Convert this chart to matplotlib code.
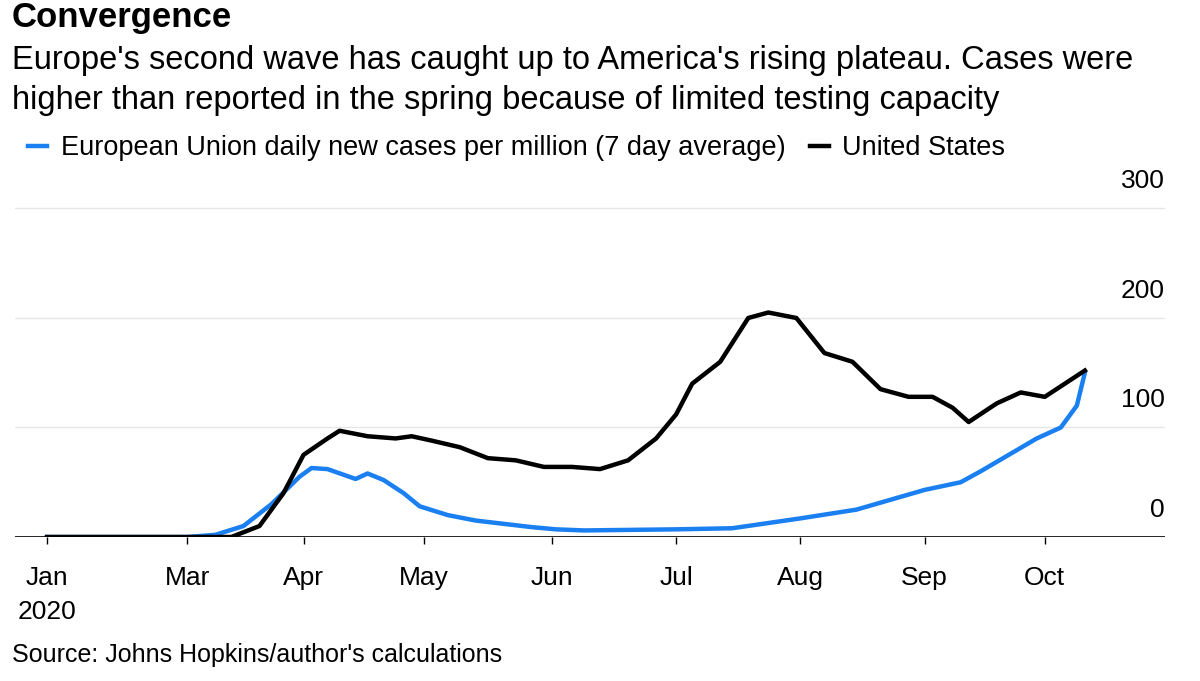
import matplotlib.pyplot as plt
import pandas as pd

plt.rcParams['font.family'] = ['Liberation Sans', 'DejaVu Sans']

eu_dates = ["2020-01-26", "2020-03-01", "2020-03-08", "2020-03-15", "2020-03-22", "2020-03-29",
            "2020-04-01", "2020-04-05", "2020-04-12", "2020-04-15", "2020-04-19", "2020-04-24",
            "2020-04-28", "2020-05-05", "2020-05-12", "2020-05-19", "2020-05-26", "2020-06-01",
            "2020-06-08", "2020-07-01", "2020-07-15", "2020-08-01", "2020-08-15", "2020-09-01",
            "2020-09-10", "2020-09-15", "2020-09-22", "2020-09-29", "2020-10-05", "2020-10-09",
            "2020-10-11"]
eu_vals = [0, 0, 2, 10, 30, 55, 63, 62, 53, 58, 52, 40, 28, 20, 15, 12, 9, 7, 6, 7, 8, 17, 25,
           43, 50, 60, 75, 90, 100, 120, 150]

us_dates = ["2020-01-26", "2020-03-12", "2020-03-19", "2020-03-25", "2020-03-30", "2020-04-05",
            "2020-04-08", "2020-04-15", "2020-04-22", "2020-04-26", "2020-05-01", "2020-05-08",
            "2020-05-15", "2020-05-22", "2020-05-29", "2020-06-05", "2020-06-12", "2020-06-19",
            "2020-06-26", "2020-07-01", "2020-07-05", "2020-07-12", "2020-07-19", "2020-07-24",
            "2020-07-31", "2020-08-07", "2020-08-14", "2020-08-21", "2020-08-28", "2020-09-03",
            "2020-09-08", "2020-09-12", "2020-09-19", "2020-09-25", "2020-10-01", "2020-10-11"]
us_vals = [0, 0, 10, 40, 75, 90, 97, 92, 90, 92, 88, 82, 72, 70, 64, 64, 62, 70, 90, 112, 140,
           160, 200, 205, 200, 168, 160, 135, 128, 128, 118, 105, 122, 132, 128, 152]

tick_dates = ["2020-01-26", "2020-03-01", "2020-03-30", "2020-04-29", "2020-05-31",
              "2020-07-01", "2020-08-01", "2020-09-01", "2020-10-01"]
tick_labels = ["Jan\n2020", "Mar", "Apr", "May", "Jun", "Jul", "Aug", "Sep", "Oct"]
y_ticks = [0, 100, 200, 300]

fig = plt.figure(figsize=(12, 6.81), dpi=100)
ax = fig.add_axes([15 / 1200, 1 - 537 / 681, 1150 / 1200, (537 - 180) / 681])

ax.plot(pd.to_datetime(eu_dates), eu_vals, color="#1a7ff0", lw=3.2, label="European Union daily new cases per million (7 day average)")
ax.plot(pd.to_datetime(us_dates), us_vals, color="black", lw=3.2, label="United States")

ax.set_xlim(pd.Timestamp("2020-01-18"), pd.Timestamp("2020-10-31"))
ax.set_ylim(0, 326)
for v in y_ticks[1:]:
    ax.axhline(v, color="#e6e6e6", lw=1, zorder=0)
ax.axhline(0, color="black", lw=1.2)
for v in y_ticks:
    ax.text(1.0, v + 14, str(v), transform=ax.get_yaxis_transform(), ha="right", va="bottom", fontsize=19)

ax.set_xticks(pd.to_datetime(tick_dates))
ax.set_xticklabels(tick_labels, fontsize=19, linespacing=1.5)
ax.tick_params(axis="x", length=5, width=1, pad=16)
ax.set_yticks([])
for s in ax.spines.values():
    s.set_visible(False)

fig.text(12 / 1200, 1 - 18 / 681, "Convergence", fontsize=25, fontweight="bold", va="center")
fig.text(12 / 1200, 1 - 60 / 681, "Europe's second wave has caught up to America's rising plateau. Cases were",
         fontsize=23.5, va="center")
fig.text(12 / 1200, 1 - 100 / 681, "higher than reported in the spring because of limited testing capacity",
         fontsize=23.5, va="center")
fig.legend(loc="center left", bbox_to_anchor=(4 / 1200, 1 - 148 / 681), ncol=2, frameon=False,
           fontsize=19.5, handlelength=0.7, handletextpad=0.5, columnspacing=0.9)
fig.text(12 / 1200, 1 - 655 / 681, "Source: Johns Hopkins/author's calculations", fontsize=18, va="center")

fig.savefig("out.png", dpi=100)
